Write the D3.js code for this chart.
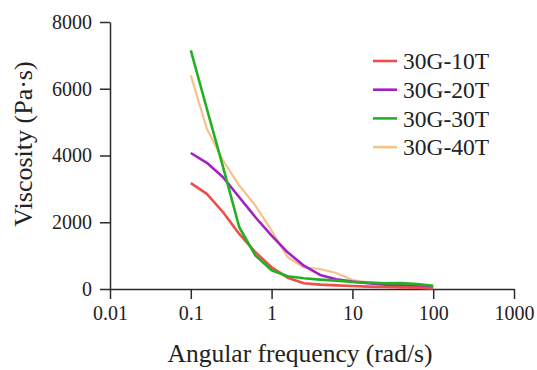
<!DOCTYPE html>
<html>
<head>
<meta charset="utf-8">
<script src="https://cdn.jsdelivr.net/npm/d3@7"></script>
<style>
  body { margin: 0; background: #fff; }
  svg { display: block; font-family: "Liberation Serif", "Times New Roman", serif; }
  .axis path, .axis line { stroke: #2b2b2b; stroke-width: 1.5; }
  .axis text { font-size: 20px; fill: #222; font-family: "Liberation Serif", serif; }
</style>
</head>
<body>
<div id="chart"></div>
<script>
// angular frequency (rad/s), 5 points per decade
var freq = [0.1, 0.158, 0.251, 0.398, 0.631, 1, 1.58, 2.51, 3.98, 6.31, 10, 15.8, 25.1, 39.8, 63.1, 100];

// viscosity (Pa·s) per sample
var v10T = [3170, 2850, 2300, 1650, 1100, 650, 340, 170, 130, 110, 90, 70, 60, 50, 40, 20];
var v20T = [4075, 3780, 3350, 2750, 2150, 1600, 1100, 700, 420, 290, 220, 170, 130, 110, 80, 60];
var v30T = [7150, 5400, 3650, 1850, 1000, 560, 380, 320, 280, 250, 210, 190, 170, 175, 150, 95];
var v40T = [6400, 4800, 3850, 3100, 2500, 1750, 950, 650, 600, 480, 270, 200, 150, 120, 90, 70];

var seriesNames = ["30G-10T", "30G-20T", "30G-30T", "30G-40T"];
var seriesValues = [v10T, v20T, v30T, v40T];
var colors = ["#ea4f4a", "#a320c4", "#23b023", "#f7c18c"];

var xTicks = [0.01, 0.1, 1, 10, 100, 1000];
var yTicks = [0, 2000, 4000, 6000, 8000];

var W = 537, H = 370;
var margin = {top: 22, right: 23, bottom: 81, left: 110},
    width = W - margin.left - margin.right,
    height = H - margin.top - margin.bottom;

var svg = d3.select("#chart").append("svg")
    .attr("width", W)
    .attr("height", H)
  .append("g")
    .attr("transform", "translate(" + margin.left + "," + margin.top + ")");

var x = d3.scaleLog().domain([0.01, 1000]).range([0, width]);
var y = d3.scaleLinear().domain([0, 8000]).range([height, 0]);

// axes
svg.append("g")
    .attr("class", "axis")
    .attr("transform", "translate(0," + height + ")")
    .call(d3.axisBottom(x)
      .tickValues(xTicks)
      .tickFormat(function(d){ return String(d); })
      .tickSize(10)
      .tickSizeOuter(0)
      .tickPadding(7));

svg.append("g")
    .attr("class", "axis")
    .call(d3.axisLeft(y)
      .tickValues(yTicks)
      .tickFormat(d3.format("d"))
      .tickSize(10)
      .tickSizeOuter(0)
      .tickPadding(8));

// axis titles
svg.append("text")
    .attr("x", 300 - margin.left)
    .attr("y", 362 - margin.top)
    .attr("text-anchor", "middle")
    .style("font-size", "25.5px")
    .style("fill", "#222")
    .text("Angular frequency (rad/s)");

svg.append("text")
    .attr("transform", "translate(" + (32 - margin.left) + "," + (144 - margin.top) + ") rotate(-90)")
    .attr("text-anchor", "middle")
    .style("font-size", "26px")
    .style("fill", "#222")
    .text("Viscosity (Pa·s)");

// lines
var line = d3.line()
    .x(function(d){ return x(d[0]); })
    .y(function(d){ return y(d[1]); });

var drawOrder = [3, 1, 0, 2];
drawOrder.forEach(function(i){
  var pts = freq.map(function(f, j){ return [f, seriesValues[i][j]]; });
  svg.append("path")
      .datum(pts)
      .attr("fill", "none")
      .attr("stroke", colors[i])
      .attr("stroke-width", i == 3 ? 2.2 : 2.6)
      .attr("stroke-linejoin", "round")
      .attr("d", line);
});

// legend
var legend = svg.selectAll(".legend")
    .data(seriesNames)
    .enter()
    .append("g")
      .attr("transform", function(d, i){ return "translate(" + (373 - margin.left) + "," + (61 + i * 28.7 - margin.top) + ")"; });

legend.append("line")
    .attr("x1", 0).attr("x2", 24)
    .attr("stroke", function(d, i){ return colors[i]; })
    .attr("stroke-width", 2.6);

legend.append("text")
    .attr("x", 30)
    .attr("dy", "0.35em")
    .style("font-size", "23.5px")
    .style("fill", "#222")
    .text(function(d){ return d; });
</script>
</body>
</html>
